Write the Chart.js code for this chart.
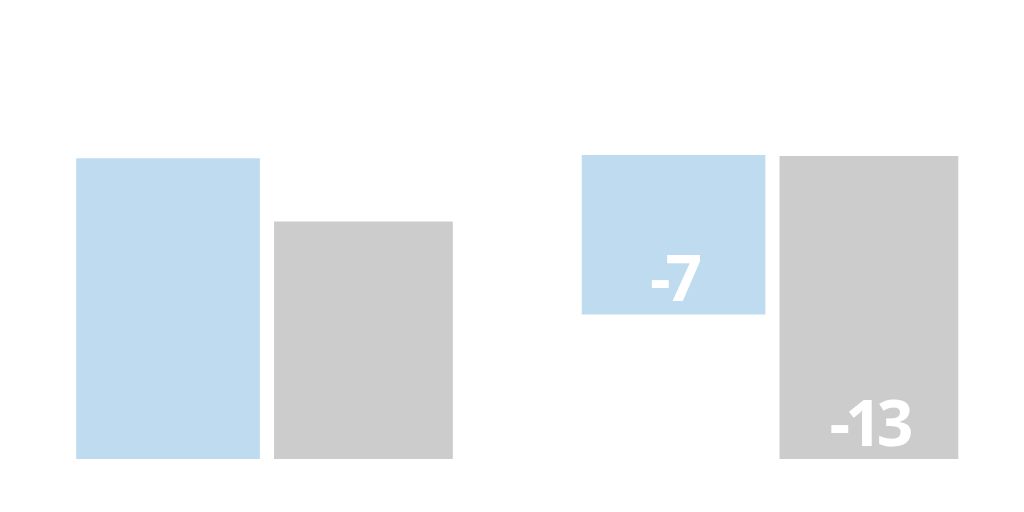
<!DOCTYPE html>
<html>
<head>
<meta charset="utf-8">
<script src="https://cdn.jsdelivr.net/npm/chart.js@4"></script>
<style>
  html,body{margin:0;padding:0;background:#fff;}
  #wrap{width:1024px;height:512px;position:relative;}
</style>
</head>
<body>
<div id="wrap"><canvas id="chart"></canvas></div>
<script>
/* ===== data ===== */
const categories = ['A', 'B'];
// floating bars: [from, to]
const blueValues = [[0, 13.1], [13.25, 6.3]];
const grayValues = [[0, 10.35], [13.2, 0]];
const blueLabels = [null, '-7'];
const grayLabels = [null, '-13'];

const BLUE = '#BFDBEF';
const GRAY = '#CCCCCC';

/* ===== labels inside bar bottoms ===== */
const barLabels = {
  id: 'barLabels',
  afterDatasetsDraw(chart){
    const ctx = chart.ctx;
    ctx.save();
    ctx.fillStyle = '#fff';
    ctx.font = 'bold 64px "Open Sans", sans-serif';
    ctx.textAlign = 'center';
    ctx.textBaseline = 'alphabetic';
    try { ctx.letterSpacing = '-5px'; } catch(e){}
    chart.data.datasets.forEach((ds, di) => {
      const meta = chart.getDatasetMeta(di);
      meta.data.forEach((bar, i) => {
        const txt = ds.barText[i];
        if(!txt) return;
        const bottom = Math.max(bar.y, bar.base);
        ctx.fillText(txt, bar.x, bottom - 13);
      });
    });
    ctx.restore();
  }
};

new Chart(document.getElementById('chart'), {
  type: 'bar',
  data: {
    labels: categories,
    datasets: [
      { data: blueValues, backgroundColor: BLUE, barPercentage: 0.94, categoryPercentage: 0.773, barText: blueLabels },
      { data: grayValues, backgroundColor: GRAY, barPercentage: 0.915, categoryPercentage: 0.773, barText: grayLabels }
    ]
  },
  options: {
    responsive: true,
    maintainAspectRatio: false,
    animation: false,
    layout: { padding: { left: 13, right: 0, top: 0, bottom: 53 } },
    plugins: { legend: { display: false }, tooltip: { enabled: false } },
    scales: {
      x: { display: false, grid: { display: false } },
      y: { display: false, min: 0, max: 20, grid: { display: false } }
    }
  },
  plugins: [barLabels]
});
</script>
</body>
</html>
